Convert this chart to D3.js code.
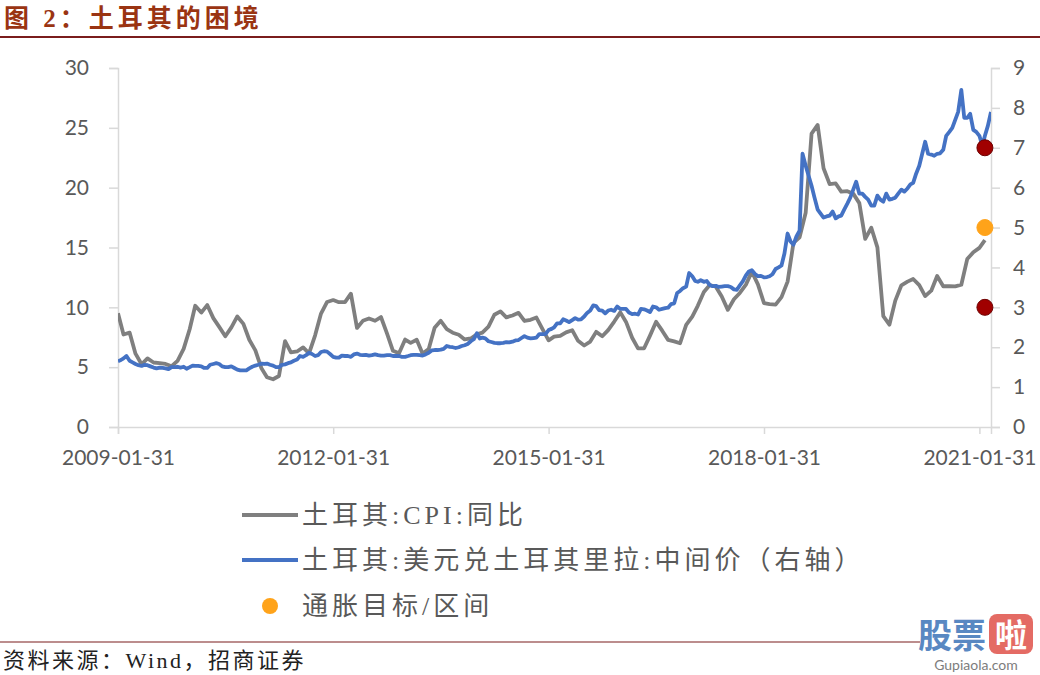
<!DOCTYPE html>
<html>
<head>
<meta charset="utf-8">
<script src="https://cdn.jsdelivr.net/npm/d3@7"></script>
<style>
  body { margin: 0; background: #fff; }
  svg { display: block; }
</style>
</head>
<body>
<svg id="chart" width="1040" height="675"></svg>
<script>
// Turkey CPI YoY (%), month end, 2009-01 .. 2021-02
var cpiStart = [2009, 0];
var cpiValues = [
  9.50, 7.73, 7.89, 6.13, 5.24, 5.73, 5.39, 5.33, 5.27, 5.08, 5.53, 6.53,
  8.19, 10.13, 9.56, 10.19, 9.10, 8.37, 7.58, 8.33, 9.24, 8.62, 7.29, 6.40,
  4.90, 4.16, 3.99, 4.26, 7.17, 6.24, 6.31, 6.65, 6.15, 7.66, 9.48, 10.45,
  10.61, 10.43, 10.43, 11.14, 8.28, 8.87, 9.07, 8.88, 9.19, 7.80, 6.37, 6.16,
  7.31, 7.03, 7.29, 6.13, 6.51, 8.30, 8.88, 8.17, 7.88, 7.71, 7.32, 7.40,
  7.75, 7.89, 8.39, 9.38, 9.66, 9.16, 9.32, 9.54, 8.86, 8.96, 9.15, 8.17,
  7.24, 7.55, 7.61, 7.91, 8.09, 7.20, 6.81, 7.14, 7.95, 7.58, 8.10, 8.81,
  9.58, 8.78, 7.46, 6.57, 6.58, 7.64, 8.79, 8.05, 7.28, 7.16, 7.00, 8.53,
  9.22, 10.13, 11.29, 11.87, 11.72, 10.90, 9.79, 10.68, 11.20, 11.90, 12.98, 11.92,
  10.35, 10.26, 10.23, 10.85, 12.15, 15.39, 15.85, 17.90, 24.52, 25.24, 21.62, 20.30,
  20.35, 19.67, 19.71, 19.50, 18.71, 15.72, 16.65, 15.01, 9.26, 8.55, 10.56, 11.84,
  12.15, 12.37, 11.86, 10.94, 11.39, 12.62, 11.76, 11.77, 11.75, 11.89, 14.03, 14.60,
  14.97, 15.61
];

// USD/TRY middle rate, two readings a month (mid-month, month end)
var fx2009 = [null,1.65, 1.68,1.72, 1.78,1.66, 1.62,1.58, 1.55,1.53, 1.56,1.55, 1.52,1.49, 1.47,1.49, 1.48,1.47, 1.45,1.50, 1.50,1.51, 1.49,1.51];
var fx2010 = [1.46,1.50, 1.54,1.53, 1.53,1.52, 1.48,1.48, 1.56,1.58, 1.60,1.58, 1.52,1.50, 1.50,1.52, 1.48,1.44, 1.42,1.42, 1.42,1.47, 1.51,1.54];
var fx2011 = [1.56,1.59, 1.58,1.59, 1.56,1.54, 1.50,1.50, 1.56,1.57, 1.60,1.62, 1.66,1.69, 1.78,1.76, 1.80,1.86, 1.83,1.78, 1.80,1.88, 1.90,1.89];
var fx2012 = [1.83,1.76, 1.74,1.74, 1.79,1.78, 1.78,1.76, 1.82,1.84, 1.81,1.80, 1.81,1.79, 1.80,1.82, 1.80,1.79, 1.79,1.80, 1.80,1.78, 1.78,1.78];
var fx2013 = [1.76,1.76, 1.78,1.80, 1.81,1.81, 1.80,1.79, 1.82,1.86, 1.92,1.93, 1.93,1.94, 1.96,2.03, 2.01,2.00, 1.98,2.00, 2.03,2.05, 2.08,2.15];
var fx2014 = [2.20,2.35, 2.22,2.24, 2.22,2.15, 2.13,2.11, 2.10,2.10, 2.11,2.13, 2.12,2.14, 2.17,2.18, 2.23,2.28, 2.24,2.22, 2.23,2.24, 2.33,2.33];
var fx2015 = [2.33,2.43, 2.46,2.50, 2.60,2.60, 2.70,2.67, 2.63,2.68, 2.73,2.69, 2.70,2.77, 2.86,2.92, 3.05,3.03, 2.93,2.92, 2.85,2.92, 2.94,2.91];
var fx2016 = [3.02,2.96, 2.96,2.96, 2.87,2.83, 2.84,2.82, 2.96,2.95, 2.92,2.88, 3.02,3.00, 2.94,2.96, 2.98,2.99, 3.08,3.10, 3.36,3.41, 3.48,3.52];
var fx2017 = [3.86,3.78, 3.66,3.64, 3.68,3.64, 3.66,3.56, 3.53,3.54, 3.51,3.52, 3.53,3.53, 3.51,3.45, 3.44,3.55, 3.65,3.80, 3.90,3.93, 3.84,3.78];
var fx2018 = [3.79,3.75, 3.76,3.78, 3.83,3.96, 4.00,4.05, 4.35,4.85, 4.65,4.57, 4.78,4.92, 6.85,6.55, 6.30,6.05, 5.75,5.45, 5.35,5.25, 5.28,5.30];
var fx2019 = [5.40,5.23, 5.28,5.30, 5.45,5.60, 5.75,5.95, 6.15,5.85, 5.85,5.77, 5.70,5.55, 5.55,5.80, 5.70,5.65, 5.85,5.70, 5.72,5.75, 5.85,5.95];
var fx2020 = [5.90,5.98, 6.08,6.12, 6.35,6.55, 6.85,7.15, 6.85,6.83, 6.80,6.85, 6.86,6.95, 7.30,7.40, 7.50,7.70, 7.90,8.45, 7.75,7.75, 7.85,7.45];
var fx2021 = [7.40,7.30, 7.05,7.30, 7.55,7.90];
var fxYears = [2009, 2010, 2011, 2012, 2013, 2014, 2015, 2016, 2017, 2018, 2019, 2020, 2021];
var fxByYear = [fx2009, fx2010, fx2011, fx2012, fx2013, fx2014, fx2015, fx2016, fx2017, fx2018, fx2019, fx2020, fx2021];

// inflation target 5% with 3-7% band (plotted on right axis)
var targetDate = "2021-02-28";
var targetValues = [7, 5, 3];
var targetKinds = ["band", "target", "band"];

var xTicks = ["2009-01-31", "2012-01-31", "2015-01-31", "2018-01-31", "2021-01-31"];
var xStart = "2009-01-31", xEnd = "2021-03-31";

var parse = d3.timeParse("%Y-%m-%d");
var fmt = d3.timeFormat("%Y-%m-%d");

var cpi = cpiValues.map(function(v, i) {
  return { date: new Date(cpiStart[0], cpiStart[1] + i + 1, 0), value: v };
});

var fx = [];
fxYears.forEach(function(yr, k) {
  fxByYear[k].forEach(function(v, i) {
    var m = Math.floor(i / 2);
    var d = (i % 2 === 0) ? new Date(yr, m, 15) : new Date(yr, m + 1, 0);
    if (v !== null) fx.push({ date: d, value: v });
  });
});

var svg = d3.select("#chart");
var axisColor = "#d9d9d9", textColor = "#595959";
var sans = "Lato, 'Noto Sans', sans-serif";
var cjk = "'Noto Sans CJK SC', sans-serif";
var song = "'Liberation Serif', 'Noto Sans CJK SC', serif";

var plot = { left: 118, right: 991, top: 68, bottom: 427 };

var x = d3.scaleTime()
    .domain([parse(xStart), parse(xEnd)])
    .range([plot.left, plot.right]);
var yL = d3.scaleLinear().domain([0, 30]).range([plot.bottom, plot.top]);
var yR = d3.scaleLinear().domain([0, 9]).range([plot.bottom, plot.top]);

// title
svg.append("text")
    .attr("x", 4).attr("y", 27)
    .style("font-family", song).style("font-weight", "bold")
    .style("font-size", "25px").style("letter-spacing", "4px").style("fill", "#9a3412")
    .text("图 2：土耳其的困境");
svg.append("line")
    .attr("x1", 0).attr("x2", 1040).attr("y1", 37).attr("y2", 37)
    .attr("stroke", "#7a1c1c").attr("stroke-width", 2);

// axes
var gL = svg.append("g")
    .attr("transform", "translate(" + plot.left + ",0)")
    .call(d3.axisLeft(yL).tickValues(d3.range(0, 31, 5)).tickSize(9).tickPadding(20));
var gR = svg.append("g")
    .attr("transform", "translate(" + plot.right + ",0)")
    .call(d3.axisRight(yR).tickValues(d3.range(0, 10, 1)).tickSize(9).tickPadding(13));
var gX = svg.append("g")
    .attr("transform", "translate(0," + plot.bottom + ")")
    .call(d3.axisBottom(x).tickValues(xTicks.map(parse)).tickFormat(fmt).tickSize(7).tickPadding(18));

[gL, gR, gX].forEach(function(g) {
  g.select(".domain").attr("stroke", axisColor).attr("stroke-width", 1.5);
  g.selectAll(".tick line").attr("stroke", axisColor).attr("stroke-width", 1.5);
  g.selectAll(".tick text")
      .style("font-family", sans).style("font-size", "21px").style("fill", textColor);
});
gX.selectAll(".tick text").attr("dy", "0.6em");

// clip lines to plot
svg.append("clipPath").attr("id", "clip")
  .append("rect")
    .attr("x", plot.left).attr("y", plot.top - 10)
    .attr("width", plot.right - plot.left).attr("height", plot.bottom - plot.top + 10);

var lines = svg.append("g").attr("clip-path", "url(#clip)");

lines.append("path")
    .datum(cpi)
    .attr("fill", "none")
    .attr("stroke", "#7f7f7f")
    .attr("stroke-width", 3.8)
    .attr("stroke-linejoin", "round")
    .attr("d", d3.line()
        .x(function(d) { return x(d.date); })
        .y(function(d) { return yL(d.value); }));

lines.append("path")
    .datum(fx)
    .attr("fill", "none")
    .attr("stroke", "#4472c4")
    .attr("stroke-width", 3.8)
    .attr("stroke-linejoin", "round")
    .attr("d", d3.line()
        .x(function(d) { return x(d.date); })
        .y(function(d) { return yR(d.value); }));

svg.selectAll(".target")
    .data(targetValues)
    .enter().append("circle")
    .attr("class", "target")
    .attr("cx", x(parse(targetDate)))
    .attr("cy", function(d) { return yR(d); })
    .attr("r", 8)
    .attr("fill", function(d, i) { return targetKinds[i] === "band" ? "#a00000" : "#ffa31a"; })
    .attr("stroke", function(d, i) { return targetKinds[i] === "band" ? "#6e0000" : "#ffa31a"; })
    .attr("stroke-width", 1);

// legend
var legendItems = [
  { label: "土耳其:CPI:同比", type: "line", color: "#7f7f7f", y: 515 },
  { label: "土耳其:美元兑土耳其里拉:中间价（右轴）", type: "line", color: "#4472c4", y: 560 },
  { label: "通胀目标/区间", type: "dot", color: "#ffa31a", y: 606 }
];
var legend = svg.append("g");
legendItems.forEach(function(it) {
  if (it.type === "line") {
    legend.append("line")
        .attr("x1", 242).attr("x2", 298).attr("y1", it.y).attr("y2", it.y)
        .attr("stroke", it.color).attr("stroke-width", 4);
  } else {
    legend.append("circle")
        .attr("cx", 270).attr("cy", it.y).attr("r", 8).attr("fill", it.color);
  }
  legend.append("text")
      .attr("x", 302).attr("y", it.y + 9)
      .style("font-family", song).style("font-size", "26px")
      .style("letter-spacing", "4px").style("fill", textColor)
      .text(it.label);
});

// footer
svg.append("line")
    .attr("x1", 0).attr("x2", 920).attr("y1", 642).attr("y2", 642)
    .attr("stroke", "#7a1c1c").attr("stroke-width", 1.2);
svg.append("text")
    .attr("x", 3).attr("y", 668)
    .style("font-family", song).style("font-size", "22px")
    .style("letter-spacing", "2.5px").style("fill", "#222")
    .text("资料来源：Wind，招商证券");

// watermark
var wm = svg.append("g").attr("opacity", 0.85);
wm.append("text")
    .attr("x", 918).attr("y", 648)
    .style("font-family", cjk).style("font-weight", "bold").style("font-size", "34px")
    .style("fill", "#3d74b8")
    .text("股票");
wm.append("rect")
    .attr("x", 989).attr("y", 614).attr("width", 44).attr("height", 40).attr("rx", 8)
    .attr("fill", "#e0524a");
wm.append("text")
    .attr("x", 1011).attr("y", 647).attr("text-anchor", "middle")
    .style("font-family", cjk).style("font-weight", "bold").style("font-size", "32px")
    .style("fill", "#fff")
    .text("啦");
wm.append("text")
    .attr("x", 976).attr("y", 670).attr("text-anchor", "middle")
    .style("font-family", sans).style("font-size", "14px").style("fill", "#666")
    .text("Gupiaola.com");
</script>
</body>
</html>
